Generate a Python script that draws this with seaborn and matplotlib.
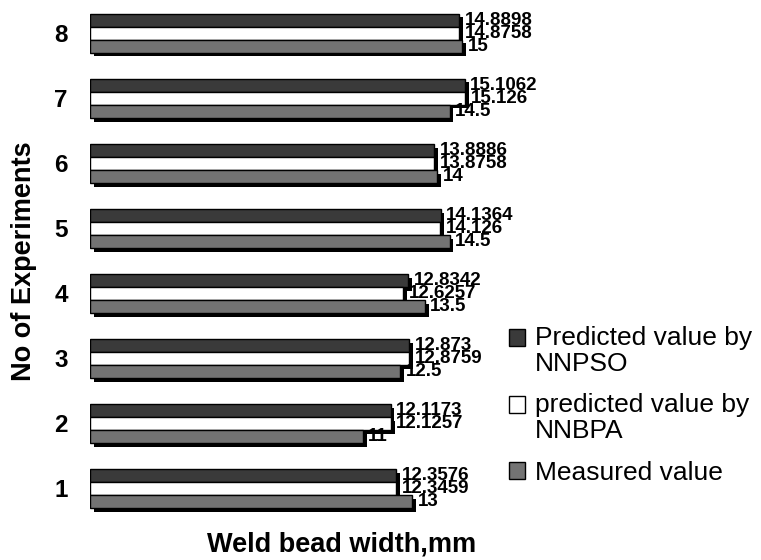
import matplotlib
matplotlib.use("Agg")
import matplotlib.pyplot as plt
import matplotlib.patches as mpatches
import matplotlib.patheffects as pe
from matplotlib.legend_handler import HandlerPatch
import seaborn as sns
import pandas as pd

experiments = ["8", "7", "6", "5", "4", "3", "2", "1"]
nnpso = [14.8898, 15.1062, 13.8886, 14.1364, 12.8342, 12.873, 12.1173, 12.3576]
nnbpa = [14.8758, 15.126, 13.8758, 14.126, 12.6257, 12.8759, 12.1257, 12.3459]
measured = [15, 14.5, 14, 14.5, 13.5, 12.5, 11, 13]
series_names = ["Predicted value by\nNNPSO", "predicted value by\nNNBPA", "Measured value"]
colors = ["#3a3a3a", "#ffffff", "#737373"]

rows = []
for name, vals in zip(series_names, [nnpso, nnbpa, measured]):
    for e, v in zip(experiments, vals):
        rows.append({"exp": e, "value": v, "series": name})
df = pd.DataFrame(rows)

sns.set_theme(style="white")
plt.rcParams["font.family"] = ["Liberation Sans", "DejaVu Sans"]
for k in ["text.color", "axes.labelcolor", "xtick.color", "ytick.color"]:
    plt.rcParams[k] = "black"

fig = plt.figure(figsize=(7.61, 5.60), dpi=100)
ax = fig.add_axes([90 / 761, 1 - 521 / 560, (502 - 90) / 761, (521 - 0.5) / 560])

sns.barplot(data=df, x="value", y="exp", hue="series", orient="h",
            order=experiments, hue_order=series_names, palette=colors,
            edgecolor="black", linewidth=1.0, width=0.6, gap=0,
            saturation=1, legend=False, ax=ax)

shadow = [pe.SimplePatchShadow(offset=(2.8, -2.8), shadow_rgbFace="black", alpha=1.0), pe.Normal()]
for cont in ax.containers:
    for p in cont.patches:
        p.set_path_effects(shadow)
    ax.bar_label(cont, fmt="%g", padding=4.0,
                 fontsize=13.5, fontweight="bold", color="black")

ax.set_xlim(0, (502 - 90) / 24.8)
ax.set_ylim(7.5, -0.5)
for s in ax.spines.values():
    s.set_visible(False)
ax.set_xticks([])
ax.tick_params(axis="y", length=0, pad=16, labelsize=17.5)
for t in ax.get_yticklabels():
    t.set_fontweight("bold")

ax.set_xlabel("Weld bead width,mm", fontsize=19.5, fontweight="bold")
ax.set_ylabel("No of Experiments", fontsize=19.5, fontweight="bold")
ax.xaxis.set_label_coords(0.61, -0.02)
ax.yaxis.set_label_coords(-0.128, 0.5)

def first_line_square(shift):
    def f(legend, orig_handle, xdescent, ydescent, width, height, fontsize):
        return mpatches.Rectangle((-xdescent, -ydescent + shift), width, height)
    return f

handles = [mpatches.Patch(facecolor=c, edgecolor="black", linewidth=1.0) for c in colors]
hmap = {}
for h, name in zip(handles, series_names):
    hmap[h] = HandlerPatch(patch_func=first_line_square(10.0 if "\n" in name else 0.0))

leg = fig.legend(handles, series_names, loc="upper left",
                 bbox_to_anchor=(509 / 761, 1 - 326 / 560), handler_map=hmap,
                 frameon=False, fontsize=19, handlelength=0.6, handleheight=0.6,
                 handletextpad=0.38, labelspacing=0.66, borderpad=0, borderaxespad=0)
for t in leg.get_texts():
    t.set_linespacing(1.1)
    t.set_color("black")

fig.savefig("out.png", dpi=100)
